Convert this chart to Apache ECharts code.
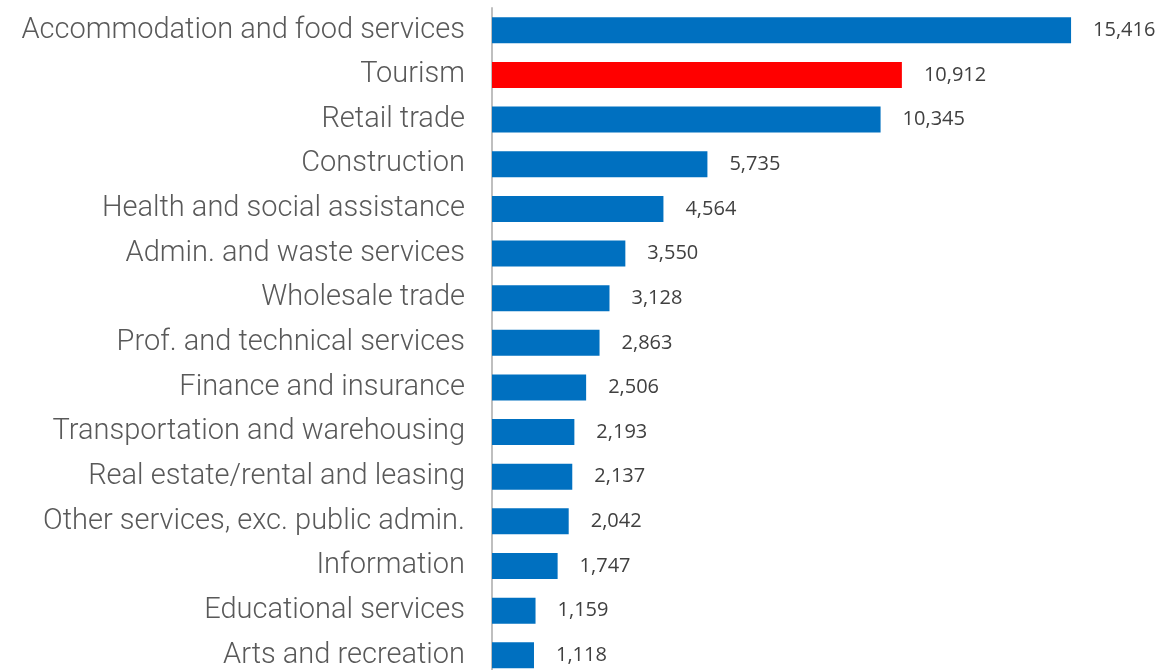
<!DOCTYPE html>
<html><head><meta charset="utf-8">
<script src="https://cdn.jsdelivr.net/npm/echarts@6/dist/echarts.min.js"></script>
<style>html,body{margin:0;padding:0;background:#fff;overflow:hidden}#c{width:1163px;height:690px}</style>
</head><body><div id="c"></div>
<script>
const categories = ["Accommodation and food services","Tourism","Retail trade","Construction","Health and social assistance","Admin. and waste services","Wholesale trade","Prof. and technical services","Finance and insurance","Transportation and warehousing","Real estate/rental and leasing","Other services, exc. public admin.","Information","Educational services","Arts and recreation"];
const values = [15416,10912,10345,5735,4564,3550,3128,2863,2506,2193,2137,2042,1747,1159,1118];
const highlight = "Tourism";

const chart = echarts.init(document.getElementById('c'), null, {renderer:'canvas'});
chart.setOption({
  animation:false,
  grid:{left:492, top:8, width:601, height:669.6, containLabel:false},
  xAxis:{type:'value', min:0, max:16000, show:false},
  yAxis:{type:'category', data:categories, inverse:true,
    axisLine:{show:true, lineStyle:{color:'#BFBFBF', width:2}},
    axisTick:{show:false},
    axisLabel:{fontFamily:'Roboto', fontWeight:300, fontSize:29, color:'#595959', margin:27}
  },
  series:[{type:'bar', barWidth:26,
    data: values.map((v,i)=>({value:v, itemStyle:{color: categories[i]===highlight ? '#FF0000' : '#0070C0'}})),
    label:{show:true, position:'right', distance:22, fontFamily:'Open Sans', fontSize:20, color:'#404040',
      formatter:p=>p.value.toLocaleString('en-US')}
  }]
});
</script></body></html>
